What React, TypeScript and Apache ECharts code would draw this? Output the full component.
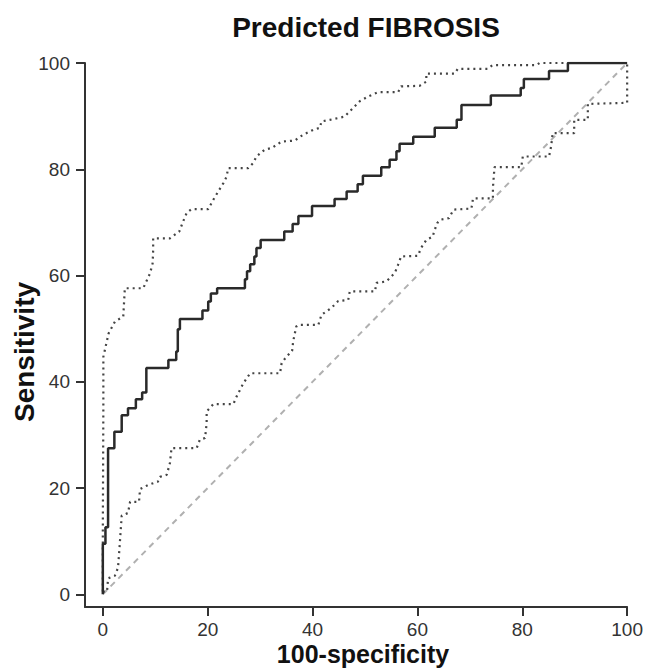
import React, { useEffect, useRef } from "react";
import * as echarts from "echarts";

const TITLE = "Predicted FIBROSIS";
const X_NAME = "100-specificity";
const Y_NAME = "Sensitivity";
const TICKS = [0, 20, 40, 60, 80, 100];

// Main ROC curve: [x, y] at the top of each vertical jump (step curve)
const rocX = [0, 0, 0.5, 1.0, 2.2, 3.6, 4.8, 6.3, 7.5, 8.3, 12.5, 14.0, 14.3, 14.7, 19.0, 20.1, 20.6, 21.8, 27.1, 27.5, 28.1, 28.9, 29.3, 30.1, 34.6, 36.2, 37.3, 39.9, 44.2, 46.5, 48.6, 49.6, 53.1, 54.7, 56.0, 56.6, 59.2, 63.3, 67.5, 68.4, 74.0, 79.7, 80.3, 85.1, 88.7, 100];
const rocY = [0, 9.5, 12.6, 27.5, 30.6, 33.7, 35.0, 36.7, 38.0, 42.6, 44.1, 45.7, 49.9, 51.8, 53.4, 55.1, 56.6, 57.6, 59.3, 60.8, 62.1, 63.6, 65.2, 66.7, 68.3, 69.7, 71.2, 73.1, 74.4, 75.8, 77.2, 78.8, 80.4, 81.8, 83.4, 84.8, 86.1, 87.8, 89.3, 92.1, 93.9, 95.3, 97.0, 98.5, 100, 100];

// Upper confidence bound (dotted)
const upperX = [0, 0, 0.1, 0.1, 1.1, 2.3, 3.9, 4.2, 7.7, 9.0, 9.5, 9.6, 9.6, 12.8, 14.6, 15.2, 16.0, 16.9, 20.1, 21.1, 22.0, 23.0, 23.6, 23.9, 27.7, 28.7, 29.3, 30.9, 32.2, 34.1, 36.6, 38.2, 40.1, 41.4, 41.7, 43.3, 46.1, 47.4, 49.0, 50.6, 52.5, 56.3, 56.9, 60.4, 61.7, 61.7, 67.1, 67.7, 73.4, 74.3, 82.7, 83.3, 100];
const upperY = [0.5, 12, 35, 44.7, 49.1, 51.3, 52.3, 57.6, 57.6, 60.4, 62.3, 64.8, 67.0, 67.0, 68.3, 69.9, 71.8, 72.5, 72.5, 74.3, 75.8, 77.4, 78.6, 80.2, 80.2, 81.2, 82.4, 83.7, 84.0, 85.2, 85.4, 86.5, 87.4, 87.8, 89.0, 89.3, 89.9, 91.2, 92.8, 93.7, 94.5, 94.5, 95.6, 95.7, 96.5, 98.0, 98.0, 98.9, 98.9, 99.6, 99.6, 100, 100];

// Lower confidence bound (dotted)
const lowerX = [0, 0.8, 1.0, 2.3, 2.9, 3.2, 3.6, 4.8, 5.2, 6.9, 7.1, 8.7, 10.5, 10.9, 12.2, 12.8, 13.1, 17.9, 18.5, 19.5, 19.8, 19.8, 21.1, 24.9, 25.5, 26.8, 28.1, 33.8, 34.1, 35.0, 36.1, 36.3, 36.9, 37.3, 41.1, 41.7, 43.6, 44.9, 46.8, 47.1, 51.9, 52.2, 54.1, 55.7, 56.3, 56.9, 60.1, 60.7, 61.7, 62.9, 63.3, 63.8, 64.4, 66.0, 66.9, 70.3, 70.6, 74.4, 74.4, 74.7, 79.8, 80.1, 85.1, 85.5, 85.8, 89.9, 89.9, 92.5, 92.5, 100, 100];
const lowerY = [0.5, 0.5, 3.0, 3.5, 5.0, 9.0, 14.8, 15.3, 17.4, 17.4, 19.8, 20.6, 21.2, 22.1, 22.5, 24.7, 27.5, 27.5, 29.1, 29.4, 32.2, 34.4, 35.8, 35.8, 37.2, 39.7, 41.6, 41.6, 43.5, 44.7, 45.8, 47.6, 50.4, 50.7, 50.7, 52.6, 53.9, 55.2, 55.4, 57.0, 57.0, 58.6, 58.9, 60.5, 62.0, 63.6, 63.7, 65.2, 66.7, 67.3, 68.6, 69.9, 70.5, 70.8, 72.4, 72.6, 74.5, 74.5, 76.5, 80.4, 80.4, 82.4, 82.4, 84.3, 86.8, 86.8, 89.3, 89.3, 92.3, 92.5, 100];

// Reference diagonal
const diagX = [0, 100];
const diagY = [0, 100];

const zip = (xs: number[], ys: number[]) => xs.map((x, i) => [x, ys[i]]);

export default function App() {
  const ref = useRef<HTMLDivElement>(null);
  useEffect(() => {
    if (!ref.current) return;
    const chart = echarts.init(ref.current, null, { renderer: "svg" });
    const font = "'Liberation Sans', Arial, Helvetica, sans-serif";
    const axisCommon = {
      type: "value" as const,
      max: 100,
      splitLine: { show: false },
      axisLine: { show: true, onZero: false, lineStyle: { color: "#333", width: 2 } },
      axisTick: { show: true, customValues: TICKS, length: 9, lineStyle: { color: "#333", width: 2 } },
    };
    chart.setOption({
      animation: false,
      backgroundColor: "#fff",
      grid: { left: 85, right: 18, top: 63, bottom: 61, containLabel: false },
      xAxis: {
        ...axisCommon,
        min: -3.4,
        axisLabel: { customValues: TICKS, fontSize: 19, color: "#333", margin: 13, fontFamily: font },
      },
      yAxis: {
        ...axisCommon,
        min: -2.4,
        axisLabel: { customValues: TICKS, fontSize: 19, color: "#333", margin: 15, fontFamily: font },
      },
      graphic: [
        {
          type: "text",
          x: 366,
          y: 27,
          style: { text: TITLE, font: `bold 28px ${font}`, fill: "#111", textAlign: "center", textVerticalAlign: "middle" },
        },
        {
          type: "text",
          x: 363,
          y: 654,
          style: { text: X_NAME, font: `bold 25px ${font}`, fill: "#111", textAlign: "center", textVerticalAlign: "middle" },
        },
        {
          type: "text",
          x: 24,
          y: 352,
          rotation: Math.PI / 2,
          style: { text: Y_NAME, font: `bold 28px ${font}`, fill: "#111", textAlign: "center", textVerticalAlign: "middle" },
        },
      ],
      series: [
        {
          type: "line",
          data: zip(diagX, diagY),
          showSymbol: false,
          symbol: "none",
          lineStyle: { color: "#b0b0b0", width: 2, type: [6, 5] },
          z: 1,
        },
        {
          type: "line",
          data: zip(lowerX, lowerY),
          showSymbol: false,
          symbol: "none",
          lineStyle: { color: "#444", width: 2.2, type: [2, 4] },
          z: 2,
        },
        {
          type: "line",
          data: zip(upperX, upperY),
          showSymbol: false,
          symbol: "none",
          lineStyle: { color: "#444", width: 2.2, type: [2, 4] },
          z: 2,
        },
        {
          type: "line",
          data: zip(rocX, rocY),
          step: "end",
          showSymbol: false,
          symbol: "none",
          lineStyle: { color: "#2a2a2a", width: 2.5 },
          z: 3,
        },
      ],
    });
    return () => chart.dispose();
  }, []);
  return <div ref={ref} style={{ position: "fixed", left: 0, top: 0, width: 646, height: 668 }} />;
}
